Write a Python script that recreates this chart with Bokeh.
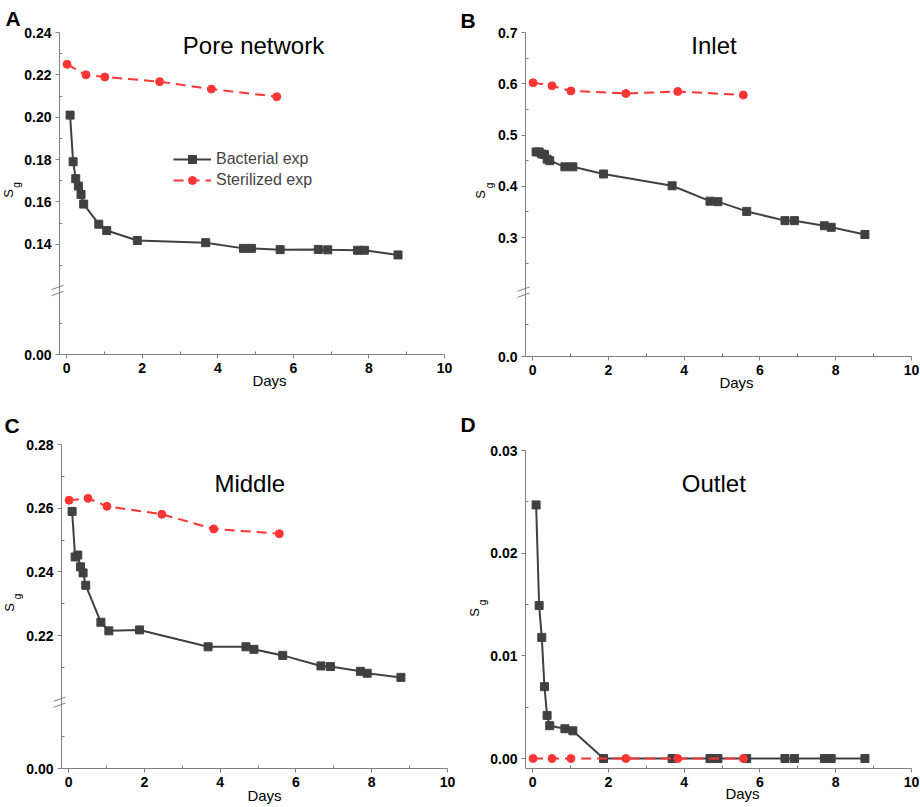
import math
from bokeh.plotting import figure
from bokeh.layouts import row, column
from bokeh.models import (Range1d, FixedTicker, Label, Legend, LegendItem,
                          PrintfTickFormatter)
from bokeh.core.properties import value
from bokeh.embed import file_html
from bokeh.resources import INLINE

# ---------------- data ----------------
days_bact = [0.09, 0.17, 0.24, 0.31, 0.38, 0.45, 0.85, 1.06, 1.87, 3.68,
             4.68, 4.89, 5.65, 6.66, 6.91, 7.70, 7.88, 8.77]
days_ster = [0.01, 0.51, 1.01, 2.46, 3.83, 5.56]

pore_bact = [0.201, 0.179, 0.171, 0.1675, 0.1635, 0.159, 0.1495, 0.1465, 0.1418,
             0.1408, 0.1381, 0.1381, 0.1375, 0.1376, 0.1374, 0.1372, 0.1372, 0.1350]
pore_ster = [0.225, 0.220, 0.219, 0.2168, 0.2133, 0.2097]

inlet_bact = [0.467, 0.467, 0.463, 0.462, 0.453, 0.450, 0.438, 0.438, 0.424,
              0.401, 0.371, 0.370, 0.351, 0.333, 0.333, 0.323, 0.320, 0.306]
inlet_ster = [0.602, 0.596, 0.586, 0.581, 0.585, 0.578]

middle_bact = [0.259, 0.2447, 0.2453, 0.2416, 0.2397, 0.2358, 0.2242, 0.2215, 0.2218,
               0.2165, 0.2165, 0.2157, 0.2138, 0.2105, 0.2103, 0.2088, 0.2082, 0.2069]
middle_ster = [0.2625, 0.2631, 0.2606, 0.2581, 0.2535, 0.2520]

outlet_bact = [0.0247, 0.0149, 0.0118, 0.0070, 0.0042, 0.0032, 0.0029, 0.0027, 0.0,
               0.0, 0.0, 0.0, 0.0, 0.0, 0.0, 0.0, 0.0, 0.0]
outlet_ster = [0.0, 0.0, 0.0, 0.0, 0.0, 0.0]

x_ticks = [0, 2, 4, 6, 8, 10]
x_minor = [1, 3, 5, 7, 9]

# y axis: upper segment ticks; the bottom tick (below the axis break) reads 0
pore_ticks = [0.14, 0.16, 0.18, 0.20, 0.22, 0.24]
inlet_ticks = [0.3, 0.4, 0.5, 0.6, 0.7]
middle_ticks = [0.22, 0.24, 0.26, 0.28]
outlet_ticks = [0.0, 0.01, 0.02, 0.03]

FONT = "Liberation Sans"
AXIS_GREY = "#808080"
DARK = "#404040"
RED = "#ff3535"
XLO, XHI = -0.19, 10

# layout / text positions (canvas pixels, page top-left)
panels = [
    dict(letter="A", title="Pore network", bact=pore_bact, ster=pore_ster,
         ticks=pore_ticks, minor=[0.13, 0.15, 0.17, 0.19, 0.21, 0.23], low_minor=0.1026,
         ylo=0.088, yhi=0.24, fmt="%.2f", zero_label="0.00",
         ox=0, oy=0, w=460, h=404, bl=59, br=16, bt=32, bb=50, brk=290,
         letter_xy=(5, 18), title_xy=(253, 45), days_xy=(269, 380),
         s_xy=(7.5, 193), g_xy=(15.5, 184.5), legend=True),
    dict(letter="B", title="Inlet", bact=inlet_bact, ster=inlet_ster,
         ticks=inlet_ticks, minor=[0.25, 0.35, 0.45, 0.55, 0.65], low_minor=0.1302,
         ylo=0.068, yhi=0.7, fmt="%.1f", zero_label="0.0",
         ox=460, oy=0, w=460, h=404, bl=65, br=9, bt=32, bb=48, brk=291.7,
         letter_xy=(460, 20), title_xy=(713.5, 45), days_xy=(736, 381.5),
         s_xy=(480, 194), g_xy=(489, 185), legend=False),
    dict(letter="C", title="Middle", bact=middle_bact, ster=middle_ster,
         ticks=middle_ticks, minor=[0.21, 0.23, 0.25, 0.27], low_minor=0.1882,
         ylo=0.1783, yhi=0.28, fmt="%.2f", zero_label="0.00",
         ox=0, oy=404, w=460, h=402, bl=61, br=13, bt=40, bb=38, brk=701.7,
         letter_xy=(4, 425), title_xy=(249.3, 482.7), days_xy=(264, 795),
         s_xy=(9, 607), g_xy=(17, 596), legend=False),
    dict(letter="D", title="Outlet", bact=outlet_bact, ster=outlet_ster,
         ticks=outlet_ticks, minor=[0.005, 0.015, 0.025], low_minor=None,
         ylo=-0.00097, yhi=0.03, fmt="%.2f", zero_label=None,
         ox=460, oy=404, w=460, h=402, bl=65, br=9, bt=46, bb=38, brk=None,
         letter_xy=(460, 424), title_xy=(713.3, 482.7), days_xy=(742, 793),
         s_xy=(474, 612), g_xy=(482, 602), legend=False),
]


def make_panel(c):
    p = figure(width=c["w"], height=c["h"], x_range=Range1d(XLO, XHI),
               y_range=Range1d(c["ylo"], c["yhi"]), output_backend="svg",
               toolbar_location=None, min_border_left=c["bl"], min_border_right=c["br"],
               min_border_top=c["bt"], min_border_bottom=c["bb"], frame_align=False)
    p.outline_line_color = None
    p.grid.visible = False
    p.background_fill_color = "white"
    p.border_fill_color = "white"

    fl = c["ox"] + c["bl"]
    ft = c["oy"] + c["bt"]
    fw = c["w"] - c["bl"] - c["br"]
    fh = c["h"] - c["bt"] - c["bb"]

    def to_data(px, py):
        return (XLO + (px - fl) * (XHI - XLO) / fw,
                c["yhi"] - (py - ft) * (c["yhi"] - c["ylo"]) / fh)

    major = list(c["ticks"])
    minor = list(c["minor"])
    overrides = {}
    if c["zero_label"] is not None:
        major = [c["ylo"]] + major
        minor = [c["low_minor"]] + minor
        overrides = {c["ylo"]: c["zero_label"]}
    p.xaxis.ticker = FixedTicker(ticks=x_ticks, minor_ticks=x_minor)
    p.yaxis.ticker = FixedTicker(ticks=major, minor_ticks=minor)
    p.yaxis.formatter = PrintfTickFormatter(format=c["fmt"])
    p.yaxis.major_label_overrides = overrides

    for ax in (p.xaxis[0], p.yaxis[0]):
        ax.axis_line_color = AXIS_GREY
        ax.major_tick_line_color = AXIS_GREY
        ax.minor_tick_line_color = AXIS_GREY
        ax.major_tick_out = 4
        ax.major_tick_in = 0
        ax.minor_tick_out = 0
        ax.minor_tick_in = 3
        ax.major_label_text_font = FONT
        ax.major_label_text_font_style = "bold"
        ax.major_label_text_font_size = "14px"
        ax.major_label_text_color = "black"
        ax.major_label_standoff = 4

    lb = p.line(days_bact, c["bact"], line_color=DARK, line_width=2)
    sb = p.scatter(days_bact, c["bact"], marker="square", size=8,
                   fill_color=DARK, line_color=DARK)
    ls = p.line(days_ster, c["ster"], line_color=RED, line_width=2, line_dash="10 6")
    ss = p.scatter(days_ster, c["ster"], marker="circle", size=8,
                   fill_color=RED, line_color=RED)

    if c["legend"]:
        leg = Legend(items=[LegendItem(label="Bacterial exp", renderers=[lb, sb]),
                            LegendItem(label="Sterilized exp", renderers=[ls, ss])],
                     location=(114, 164), padding=0, margin=0, spacing=1,
                     glyph_width=38, glyph_height=20, label_height=20,
                     label_standoff=5, label_text_font=FONT,
                     label_text_font_size="16px", border_line_alpha=0,
                     background_fill_alpha=0)
        p.add_layout(leg)

    def lab(text, pxy, size, place, style="normal", align="center",
            baseline="middle"):
        x, y = to_data(*pxy)
        lbl = Label(x=x, y=y, text=text, text_font=FONT, text_font_size=size,
                    text_font_style=style, text_align=align, text_baseline=baseline,
                    text_color="black")
        if place == "center":
            p.add_layout(lbl)
        else:
            p.add_layout(lbl, place)

    lab(c["title"], c["title_xy"], "24px", "center")
    lab(c["letter"], c["letter_xy"], "21px", "above", style="bold",
        align="left", baseline="alphabetic")
    lab("Days", c["days_xy"], "15px", "below")

    # rotated y-axis title S with subscript g (drawn unclipped at overlay level)
    for txt, pxy, size in (("S", c["s_xy"], "13px"), ("g", c["g_xy"], "10px")):
        x, y = to_data(*pxy)
        p.text(x=[x], y=[y], text=[txt], angle=math.pi / 2, text_font=value(FONT),
               text_font_size=size, text_align="center", text_baseline="middle",
               text_color="black", level="overlay")

    # axis-break marks (two short parallel slashes crossing the y axis)
    if c["brk"] is not None:
        xs0, ys0, xs1, ys1 = [], [], [], []
        for dy in (-3.0, 3.0):
            x0, y0 = to_data(fl - 8, c["brk"] + dy + 2.2)
            x1, y1 = to_data(fl + 4, c["brk"] + dy - 2.2)
            xs0.append(x0); ys0.append(y0); xs1.append(x1); ys1.append(y1)
        p.segment(xs0, ys0, xs1, ys1, line_color=AXIS_GREY, line_width=1,
                  level="overlay")
    return p


figs = [make_panel(c) for c in panels]
layout = column(row(figs[0], figs[1]), row(figs[2], figs[3]))

open("out.html", "w").write(file_html(layout, INLINE))
